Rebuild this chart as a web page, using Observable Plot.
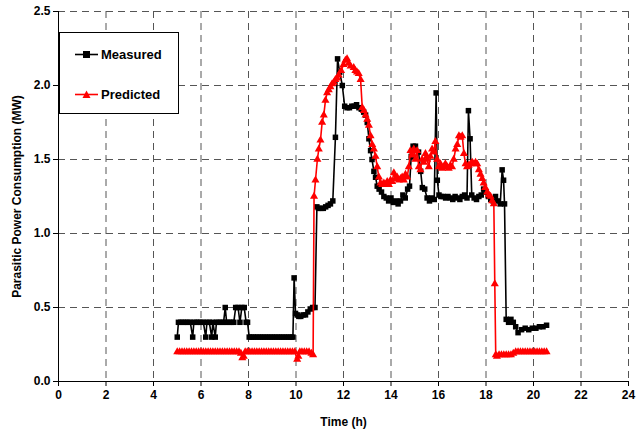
<!DOCTYPE html>
<html>
<head>
<meta charset="utf-8">
<script src="https://cdn.jsdelivr.net/npm/d3@7"></script>
<script src="https://cdn.jsdelivr.net/npm/@observablehq/plot@0.6"></script>
<style>
  html, body { margin: 0; padding: 0; background: #fff; }
  #wrap { position: relative; width: 636px; height: 432px; }
  #legend { position: absolute; left: 59px; top: 32px; width: 118px; height: 80px; border: 1px solid #000; background: #fff;
            font-family: "Liberation Sans", Arial, sans-serif; font-weight: bold; font-size: 13px; }
  .row { position: absolute; left: 0; height: 16px; display: flex; align-items: center; }
  .row svg { margin-left: 15px; }
  .row span { margin-left: 3px; }
</style>
</head>
<body>
<div id="wrap"></div>
<script>
// ---- data ----
const measuredTime = [5.0,5.05,5.15,5.25,5.35,5.45,5.55,5.65,5.7,5.8,5.9,6.0,6.1,6.2,6.25,6.35,6.45,6.5,6.6,6.65,6.75,6.85,6.95,7.02,7.08,7.18,7.28,7.38,7.46,7.56,7.64,7.72,7.82,7.9,7.96,8.03,8.1,8.2,8.3,8.4,8.5,8.6,8.7,8.8,8.9,9.0,9.1,9.2,9.3,9.4,9.5,9.6,9.7,9.8,9.87,9.92,9.98,10.05,10.12,10.2,10.3,10.4,10.5,10.6,10.7,10.8,10.88,10.95,11.05,11.15,11.25,11.35,11.45,11.55,11.66,11.75,11.84,11.95,12.05,12.15,12.25,12.35,12.45,12.55,12.65,12.75,12.85,12.93,13.0,13.07,13.14,13.2,13.28,13.35,13.42,13.5,13.6,13.7,13.8,13.9,14.0,14.1,14.2,14.3,14.4,14.5,14.6,14.7,14.78,14.85,14.93,15.03,15.16,15.25,15.32,15.42,15.52,15.62,15.72,15.82,15.9,15.95,16.02,16.1,16.2,16.3,16.4,16.5,16.6,16.7,16.8,16.9,17.0,17.1,17.2,17.26,17.33,17.4,17.5,17.6,17.7,17.8,17.9,18.0,18.1,18.2,18.3,18.4,18.5,18.6,18.68,18.74,18.78,18.85,18.95,19.05,19.15,19.25,19.35,19.5,19.65,19.8,19.95,20.1,20.25,20.4,20.55];
const measuredPower = [0.30,0.40,0.40,0.40,0.40,0.40,0.40,0.30,0.40,0.40,0.40,0.40,0.40,0.30,0.40,0.40,0.30,0.40,0.30,0.40,0.40,0.40,0.40,0.50,0.40,0.40,0.40,0.40,0.50,0.50,0.40,0.50,0.50,0.40,0.40,0.30,0.30,0.30,0.30,0.30,0.30,0.30,0.30,0.30,0.30,0.30,0.30,0.30,0.30,0.30,0.30,0.30,0.30,0.30,0.30,0.70,0.46,0.45,0.44,0.44,0.45,0.45,0.47,0.49,0.50,0.50,1.18,1.17,1.17,1.17,1.18,1.19,1.20,1.22,1.65,2.18,2.09,2.00,1.86,1.85,1.85,1.86,1.86,1.87,1.85,1.84,1.82,1.80,1.75,1.64,1.56,1.50,1.42,1.38,1.32,1.30,1.28,1.25,1.24,1.22,1.24,1.21,1.22,1.20,1.22,1.26,1.24,1.30,1.32,1.52,1.59,1.59,1.55,1.42,1.31,1.30,1.24,1.22,1.24,1.23,1.95,1.36,1.26,1.25,1.25,1.24,1.25,1.24,1.23,1.25,1.24,1.23,1.25,1.26,1.24,1.83,1.64,1.26,1.24,1.23,1.25,1.26,1.30,1.28,1.25,1.23,1.22,1.25,1.22,1.20,1.43,1.36,1.20,0.42,0.40,0.42,0.40,0.37,0.33,0.35,0.36,0.35,0.36,0.36,0.37,0.37,0.38];

const predictedTime = [5.0,5.1,5.2,5.3,5.4,5.5,5.6,5.7,5.8,5.9,6.0,6.1,6.2,6.3,6.4,6.5,6.6,6.7,6.8,6.9,7.0,7.1,7.2,7.3,7.4,7.5,7.6,7.68,7.74,7.8,7.86,7.95,8.05,8.15,8.25,8.35,8.45,8.55,8.65,8.75,8.85,8.95,9.05,9.15,9.25,9.35,9.45,9.55,9.65,9.75,9.85,9.95,10.05,10.1,10.16,10.25,10.35,10.45,10.55,10.65,10.72,10.76,10.82,10.9,10.96,11.03,11.1,11.17,11.24,11.31,11.38,11.45,11.52,11.59,11.66,11.73,11.8,11.9,12.0,12.08,12.15,12.22,12.3,12.43,12.5,12.57,12.64,12.72,12.79,12.86,12.93,13.0,13.07,13.14,13.21,13.28,13.35,13.42,13.49,13.56,13.63,13.7,13.77,13.84,13.91,13.98,14.05,14.12,14.19,14.26,14.33,14.4,14.47,14.54,14.61,14.68,14.75,14.82,14.89,14.96,15.03,15.1,15.17,15.24,15.31,15.38,15.45,15.52,15.59,15.66,15.73,15.8,15.87,15.94,16.01,16.08,16.15,16.22,16.29,16.36,16.43,16.5,16.57,16.64,16.72,16.79,16.86,16.93,17.0,17.07,17.14,17.2,17.27,17.35,17.42,17.49,17.56,17.63,17.7,17.77,17.84,17.9,17.97,18.05,18.12,18.19,18.26,18.33,18.37,18.41,18.46,18.55,18.65,18.75,18.85,18.95,19.05,19.15,19.25,19.35,19.45,19.55,19.65,19.75,19.85,19.95,20.05,20.15,20.25,20.35,20.45,20.55];
const predictedPower = [0.20,0.20,0.20,0.20,0.20,0.20,0.20,0.20,0.20,0.20,0.20,0.20,0.20,0.20,0.20,0.20,0.20,0.20,0.20,0.20,0.20,0.20,0.20,0.20,0.20,0.20,0.20,0.19,0.16,0.17,0.20,0.20,0.20,0.20,0.20,0.20,0.20,0.20,0.20,0.20,0.20,0.20,0.20,0.20,0.20,0.20,0.20,0.20,0.20,0.20,0.20,0.20,0.15,0.17,0.20,0.20,0.20,0.20,0.20,0.19,0.18,1.25,1.36,1.50,1.57,1.63,1.75,1.80,1.90,1.95,1.97,1.99,2.01,2.02,2.04,2.05,2.07,2.10,2.14,2.17,2.18,2.15,2.13,2.12,2.10,2.09,2.08,2.04,1.85,1.83,1.80,1.77,1.73,1.66,1.60,1.57,1.52,1.45,1.38,1.34,1.33,1.34,1.33,1.35,1.33,1.36,1.35,1.41,1.37,1.38,1.36,1.37,1.38,1.36,1.40,1.38,1.45,1.56,1.53,1.57,1.50,1.56,1.45,1.43,1.50,1.48,1.54,1.50,1.45,1.52,1.57,1.55,1.62,1.50,1.45,1.47,1.44,1.45,1.47,1.45,1.44,1.46,1.45,1.50,1.57,1.60,1.66,1.65,1.66,1.54,1.47,1.45,1.46,1.47,1.48,1.47,1.48,1.47,1.43,1.40,1.37,1.34,1.31,1.28,1.26,1.25,1.22,1.20,0.66,0.18,0.17,0.18,0.18,0.18,0.18,0.18,0.18,0.19,0.20,0.20,0.20,0.20,0.20,0.20,0.20,0.20,0.20,0.20,0.20,0.20,0.20,0.20];

const xTicks = [0, 2, 4, 6, 8, 10, 12, 14, 16, 18, 20, 22, 24];
const yTicks = [0, 0.5, 1.0, 1.5, 2.0, 2.5];
const seriesNames = ["Measured", "Predicted"];
const xTitle = "Time (h)";
const yTitle = "Parasitic Power Consumption (MW)";

// ---- build tables ----
const measured = measuredTime.map((t, i) => ({t, p: measuredPower[i]}));
const predicted = predictedTime.map((t, i) => ({t, p: predictedPower[i]}));

const gridStyle = {stroke: "#555", strokeOpacity: 1, strokeWidth: 1, strokeDasharray: "7,5"};

const chart = Plot.plot({
  width: 636,
  height: 432,
  marginLeft: 58,
  marginRight: 8,
  marginTop: 11,
  marginBottom: 51,
  style: {fontFamily: "'Liberation Sans', Arial, sans-serif", fontWeight: "bold", fontSize: "12px", color: "#000", background: "#fff"},
  x: {domain: [0, 24]},
  y: {domain: [0, 2.5]},
  marks: [
    Plot.gridX(xTicks.filter(d => d > 0), gridStyle),
    Plot.gridY(yTicks.filter(d => d > 0), gridStyle),
    Plot.axisX(xTicks, {tickSize: 5, tickPadding: 4, tickFormat: d => String(d), label: null, fontSize: 12}),
    Plot.axisY(yTicks, {tickSize: 5, tickPadding: 3, tickFormat: d3.format(".1f"), label: null, fontSize: 12}),
    Plot.text([xTitle], {frameAnchor: "bottom", dy: 41, lineAnchor: "middle", textAnchor: "middle", fontSize: 12, fontWeight: "bold", fill: "#000"}),
    Plot.text([yTitle], {frameAnchor: "left", dx: -41, rotate: -90, textAnchor: "middle", lineAnchor: "middle", fontSize: 12, fontWeight: "bold", fill: "#000"}),
    Plot.ruleY([0], {stroke: "#000", strokeWidth: 1}),
    Plot.ruleX([0], {stroke: "#000", strokeWidth: 1}),
    Plot.line(measured, {x: "t", y: "p", stroke: "#000", strokeWidth: 1.6}),
    Plot.dot(measured, {x: "t", y: "p", symbol: "square", fill: "#000", stroke: "none", r: 3.1}),
    Plot.line(predicted, {x: "t", y: "p", stroke: "#ff0000", strokeWidth: 1.6}),
    Plot.dot(predicted, {x: "t", y: "p", symbol: "triangle", fill: "#ff0000", stroke: "none", r: 3.0})
  ]
});

const wrap = document.getElementById("wrap");
wrap.appendChild(chart);

// legend
const legend = document.createElement("div");
legend.id = "legend";
const swatches = [
  {name: seriesNames[0], color: "#000", shape: "square", top: 13},
  {name: seriesNames[1], color: "#ff0000", shape: "triangle", top: 53}
];
for (const s of swatches) {
  const row = document.createElement("div");
  row.className = "row";
  row.style.top = s.top + "px";
  const marker = s.shape === "square"
    ? `<rect x="8" y="4" width="7" height="7" fill="${s.color}"/>`
    : `<path d="M11.5,3.5 L15.5,11 L7.5,11 Z" fill="${s.color}"/>`;
  row.innerHTML = `<svg width="23" height="15"><line x1="0" y1="7.5" x2="23" y2="7.5" stroke="${s.color}" stroke-width="1.6"/>${marker}</svg><span>${s.name}</span>`;
  legend.appendChild(row);
}
wrap.appendChild(legend);
</script>
</body>
</html>
